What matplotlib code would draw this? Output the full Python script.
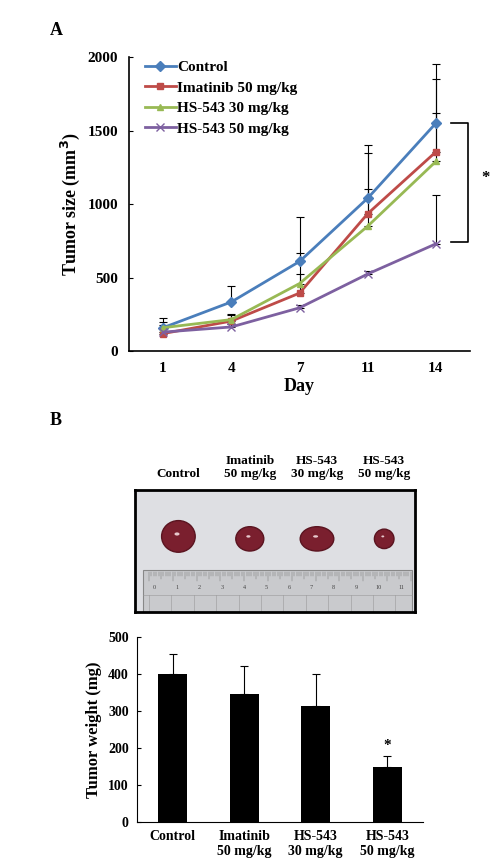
import matplotlib
matplotlib.use("Agg")
import matplotlib.pyplot as plt
import numpy as np
from matplotlib.patches import Ellipse, Rectangle

plt.rcParams["font.family"] = ["Liberation Serif", "DejaVu Serif"]
plt.rcParams["font.weight"] = "bold"

DAYS = ["1", "4", "7", "11", "14"]
SERIES = ["Control", "Imatinib 50 mg/kg", "HS-543 30 mg/kg", "HS-543 50 mg/kg"]
SIZE_MEAN = [
    [160, 335, 610, 1040, 1550],
    [120, 205, 395, 935, 1355],
    [160, 215, 460, 850, 1290],
    [130, 165, 295, 525, 730],
]
SIZE_ERR = [
    [65, 105, 300, 360, 400],
    [60, 50, 270, 415, 495],
    [40, 30, 65, 255, 330],
    [20, 20, 20, 20, 335],
]
COLORS = ["#4a7ebb", "#be4b48", "#98b954", "#7d60a0"]
MARKERS = ["D", "s", "^", "x"]

GROUPS = ["Control", "Imatinib\n50 mg/kg", "HS-543\n30 mg/kg", "HS-543\n50 mg/kg"]
WEIGHT_MEAN = [400, 347, 313, 148]
WEIGHT_ERR = [55, 75, 88, 32]

fig = plt.figure(figsize=(5, 8.63), dpi=100)

# Panel A: tumor size over time
ax1 = fig.add_axes([0.258, 0.593, 0.682, 0.341])
x = np.arange(len(DAYS))
for name, m, e, c, mk in zip(SERIES, SIZE_MEAN, SIZE_ERR, COLORS, MARKERS):
    ax1.errorbar(x, m, yerr=[np.zeros(len(e)), e], color="black", fmt="none",
                 elinewidth=0.8, capsize=3, capthick=0.8, zorder=1)
    ax1.plot(x, m, color=c, marker=mk, markersize=5 if mk != "x" else 6,
             linewidth=2, label=name, zorder=2)
ax1.set_xlim(-0.5, 4.5)
ax1.set_ylim(0, 2000)
ax1.set_yticks([0, 500, 1000, 1500, 2000])
ax1.set_xticks(x)
ax1.set_xticklabels(DAYS)
ax1.tick_params(labelsize=11, length=0, pad=8)
ax1.tick_params(axis="y", length=3, direction="in", pad=8)
for s in ["top", "right"]:
    ax1.spines[s].set_visible(False)
ax1.spines["left"].set_linewidth(1.2)
ax1.spines["bottom"].set_linewidth(1.2)
ax1.set_xlabel("Day", fontsize=13, fontweight="bold", labelpad=2)
ax1.set_ylabel("Tumor size (mm$^{\\mathbf{3}}$)", fontsize=13, fontweight="bold")
ax1.legend(loc="upper left", frameon=False, fontsize=11, handlelength=2.0,
           handletextpad=0.1, labelspacing=0.45, borderaxespad=0.2,
           bbox_to_anchor=(0.02, 1.02))
# significance bracket
ax1.plot([4.22, 4.47, 4.47, 4.22], [1550, 1550, 740, 740], color="black",
         linewidth=1.2, clip_on=False)
ax1.text(4.72, 1180, "*", fontsize=12, ha="center", va="center")

fig.text(0.1, 0.96, "A", fontsize=13, fontweight="bold")
fig.text(0.1, 0.508, "B", fontsize=13, fontweight="bold")

# Photo approximation
ax2 = fig.add_axes([0.27, 0.291, 0.56, 0.141])
ax2.set_xlim(0, 1)
ax2.set_ylim(0, 1)
ax2.set_xticks([])
ax2.set_yticks([])
ax2.set_facecolor("#dedfe3")
for s in ax2.spines.values():
    s.set_linewidth(2)
ax2.add_patch(Rectangle((0.03, 0.0), 0.96, 0.34, facecolor="#c9cacd",
                        edgecolor="#888", linewidth=0.8))
for i in range(0, 111):
    xx = 0.05 + i * 0.0085
    h = 0.08 if i % 10 == 0 else (0.06 if i % 5 == 0 else 0.035)
    ax2.plot([xx, xx], [0.33, 0.33 - h], color="#666", linewidth=0.3)
for i in range(12):
    ax2.text(0.07 + i * 0.08, 0.2, str(i), fontsize=4.5, color="#444",
             ha="center", va="center", fontweight="normal")
for i in range(12):
    ax2.plot([0.05 + i * 0.08] * 2, [0.0, 0.14], color="#999", linewidth=0.4)
ax2.plot([0.03, 0.99], [0.14, 0.14], color="#999", linewidth=0.4)
blobs = [(0.155, 0.62, 0.12, 0.26), (0.41, 0.6, 0.1, 0.2),
         (0.65, 0.6, 0.12, 0.2), (0.89, 0.6, 0.07, 0.16)]
for bx, by, bw, bh in blobs:
    ax2.add_patch(Ellipse((bx, by), bw, bh, facecolor="#7a1f2e", edgecolor="#5a1420"))
    ax2.add_patch(Ellipse((bx - 0.005, by + 0.02), bw * 0.15, bh * 0.1,
                          facecolor="#e6c8cc", edgecolor="none"))
for lbl, xx in zip(GROUPS, [0.155, 0.41, 0.65, 0.89]):
    ax2.text(xx, 1.08, lbl, fontsize=9.5, ha="center", va="bottom",
             transform=ax2.transAxes, linespacing=1.2)

# Panel B: tumor weight
ax3 = fig.add_axes([0.274, 0.0475, 0.572, 0.214])
xb = np.arange(len(GROUPS))
ax3.bar(xb, WEIGHT_MEAN, width=0.41, color="black")
ax3.errorbar(xb, WEIGHT_MEAN, yerr=[np.zeros(4), WEIGHT_ERR], fmt="none",
             color="black", elinewidth=0.8, capsize=3, capthick=0.8)
ax3.text(xb[3], WEIGHT_MEAN[3] + WEIGHT_ERR[3] + 10, "*", fontsize=11,
         ha="center", va="bottom")
ax3.set_xlim(-0.5, 3.5)
ax3.set_ylim(0, 500)
ax3.set_yticks([0, 100, 200, 300, 400, 500])
ax3.set_xticks(xb)
ax3.set_xticklabels(GROUPS, linespacing=1.2)
ax3.tick_params(labelsize=10, length=0, pad=6)
ax3.tick_params(axis="y", length=3, direction="in", pad=6)
for s in ["top", "right"]:
    ax3.spines[s].set_visible(False)
ax3.set_ylabel("Tumor weight (mg)", fontsize=12, fontweight="bold")

fig.savefig("out.png", dpi=100)
